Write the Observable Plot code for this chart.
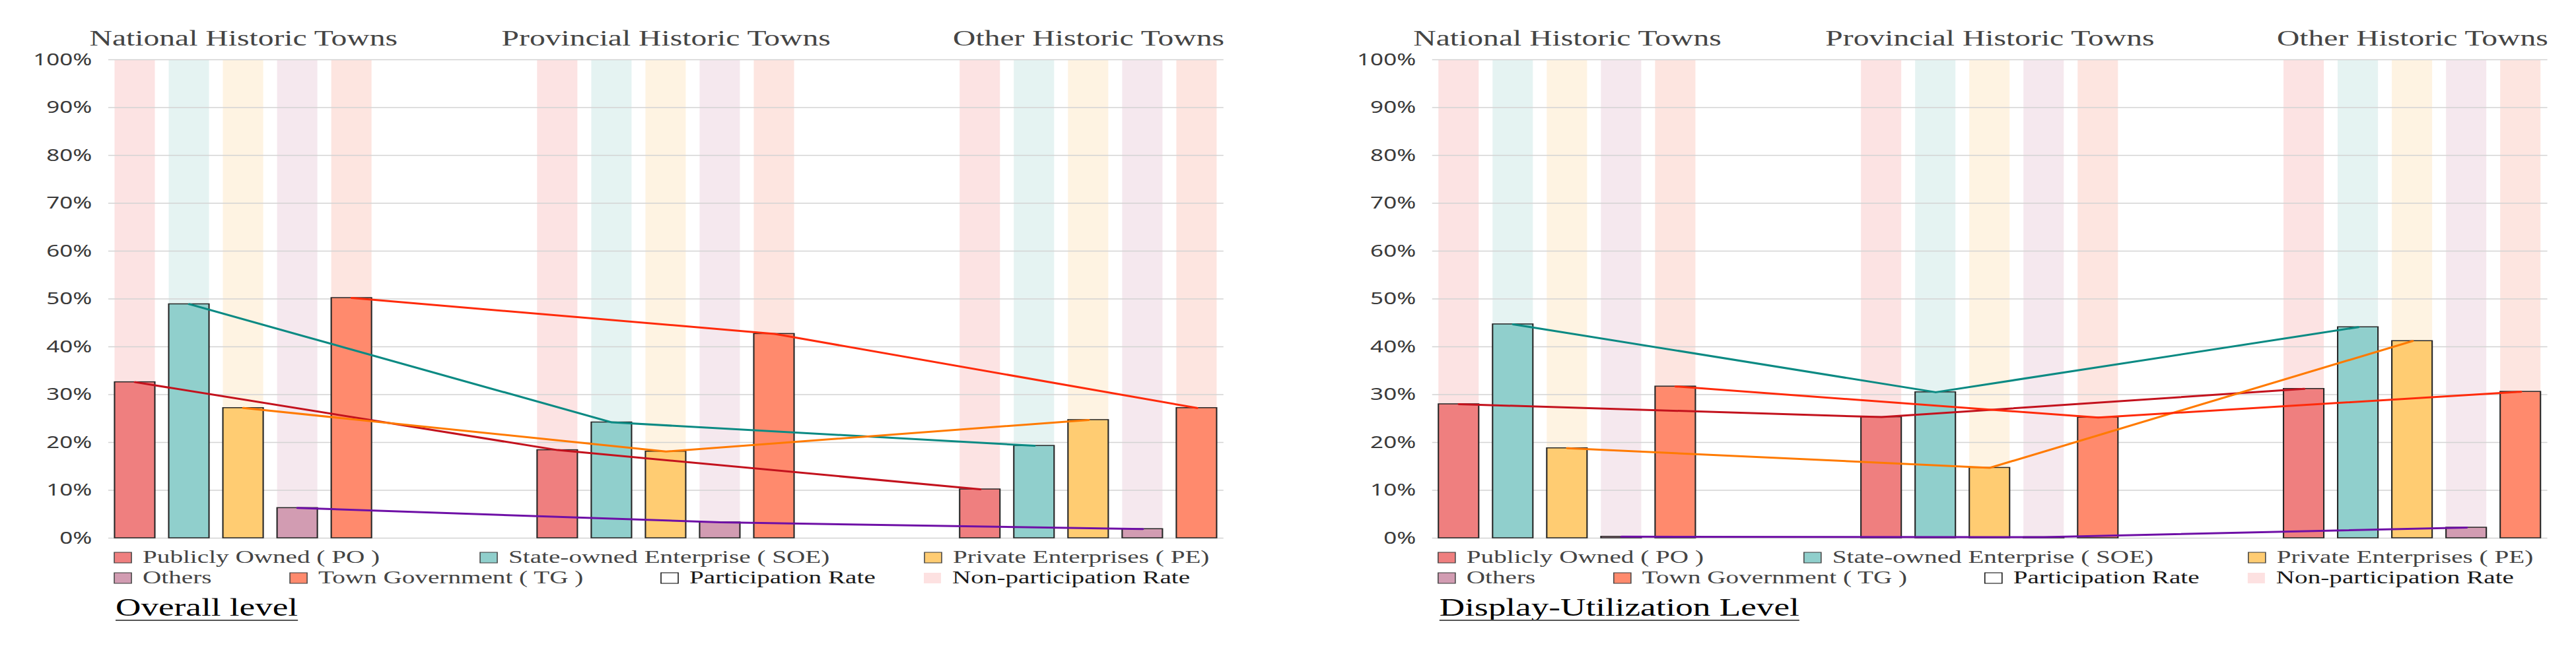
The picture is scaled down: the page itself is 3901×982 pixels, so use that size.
<!DOCTYPE html>
<html>
<head>
<meta charset="utf-8">
<script src="https://cdn.jsdelivr.net/npm/d3@7"></script>
<script src="https://cdn.jsdelivr.net/npm/@observablehq/plot@0.6"></script>
<style>
  html, body { margin: 0; padding: 0; background: #fff; }
  #wrap { position: absolute; left: 0; top: 0; width: 2787px; height: 982px; transform: scaleX(1.4); transform-origin: 0 0; }
  .panel { position: absolute; top: 0; height: 982px; width: 1352px; }
  .panel svg.overlay { position: absolute; left: 0; top: 0; pointer-events: none; }
  .panel > svg:first-child { position: absolute; left: 0; top: 0; }
</style>
</head>
<body>
<div id="wrap"></div>
<script>
// ---------------- data ----------------
const groups = ["National Historic Towns", "Provincial Historic Towns", "Other Historic Towns"];
const types = ["PO", "SOE", "PE", "Others", "TG"];
const typeLabels = ["Publicly Owned ( PO )", "State-owned Enterprise ( SOE)", "Private Enterprises ( PE)", "Others", "Town Government ( TG )"];
const rateLabels = ["Participation Rate", "Non-participation Rate"];
const panelTitles = ["Overall level", "Display-Utilization Level"];
const yTickValues = [0, 0.1, 0.2, 0.3, 0.4, 0.5, 0.6, 0.7, 0.8, 0.9, 1.0];

// Overall level (% participation), per group: National, Provincial, Other
const overallPO     = [32.6, 18.4, 10.2];
const overallSOE    = [48.9, 24.2, 19.3];
const overallPE     = [27.2, 18.1, 24.7];
const overallOthers = [6.3, 3.3, 1.9];
const overallTG     = [50.2, 42.7, 27.2];

// Display-Utilization level
const displayPO     = [28.0, 25.3, 31.2];
const displaySOE    = [44.7, 30.5, 44.1];
const displayPE     = [18.8, 14.7, 41.2];
const displayOthers = [0.3, 0.2, 2.2];
const displayTG     = [31.7, 25.2, 30.6];

// ---------------- styles ----------------
const barColor  = {PO: "#ef7f7f", SOE: "#90cfcc", PE: "#ffcc72", Others: "#d29cb2", TG: "#ff8a6d"};
const bandColor = {PO: "#fce3e3", SOE: "#e5f3f2", PE: "#fef3e2", Others: "#f5e8ee", TG: "#fde5e0"};
const lineColor = {PO: "#c3121d", SOE: "#0b8a83", PE: "#ff7a00", Others: "#6e0fa6", TG: "#ff2a0a"};
const partFill = "#ffffff", nonPartFill = "#fde1e1";

const S = 1.4;               // horizontal stretch of the whole figure
const GROUP_STEP = 7.8;      // distance between groups in bar slots
const HALF = 0.372;          // half bar width in slots
const W = 1352, H = 825;

function buildRows(series) {
  const rows = [];
  groups.forEach((g, gi) => {
    types.forEach((t, ti) => {
      rows.push({group: g, type: t, value: series[ti][gi] / 100, pos: gi * GROUP_STEP + ti});
    });
  });
  return rows;
}

function makePanel(series, title, leftPx) {
  const rows = buildRows(series);
  const panel = document.createElement("div");
  panel.className = "panel";
  panel.style.left = leftPx + "px";
  document.getElementById("wrap").appendChild(panel);

  const chart = Plot.plot({
    width: W, height: H,
    marginTop: 90, marginBottom: 10, marginLeft: 117.1, marginRight: 28.6,
    x: {type: "linear", domain: [-0.488, 20.098], axis: null},
    y: {domain: [0, 1], axis: null},
    color: {type: "identity"},
    style: {fontFamily: "'Noto Sans', sans-serif", background: "transparent", overflow: "visible"},
    marks: [
      Plot.rect(rows, {x1: d => d.pos - HALF, x2: d => d.pos + HALF, y1: 0, y2: 1, fill: d => bandColor[d.type]}),
      Plot.ruleY(yTickValues, {stroke: "#d3d3d3", strokeWidth: 1.6}),
      Plot.rect(rows, {x1: d => d.pos - HALF, x2: d => d.pos + HALF, y1: 0, y2: "value",
                       fill: d => barColor[d.type], stroke: "#262626", strokeWidth: 1.5}),
      Plot.line(rows, {x: "pos", y: "value", z: "type", stroke: d => lineColor[d.type], strokeWidth: 3}),
      Plot.axisY(yTickValues, {tickSize: 0, tickPadding: 18, tickFormat: d3.format(".0%"), fontSize: 25,
                               color: "#3a3a3a", label: null}),
      Plot.text(groups, {x: (d, i) => i * GROUP_STEP + 2, y: 1, text: d => d, dy: -22, lineAnchor: "bottom",
                         fontFamily: "'Liberation Serif', 'Times New Roman', serif", fontSize: 34, fill: "#454545"})
    ]
  });
  panel.appendChild(chart);

  // legend + title overlay
  const svg = d3.select(panel).append("svg")
    .attr("class", "overlay").attr("width", W).attr("height", 982);
  const serif = "'Liberation Serif', 'Times New Roman', serif";
  const legendItems = [
    {label: typeLabels[0], fill: barColor.PO, stroke: "#444", color: "#444"},
    {label: typeLabels[1], fill: barColor.SOE, stroke: "#444", color: "#444"},
    {label: typeLabels[2], fill: barColor.PE, stroke: "#444", color: "#444"},
    {label: typeLabels[3], fill: barColor.Others, stroke: "#444", color: "#444"},
    {label: typeLabels[4], fill: barColor.TG, stroke: "#444", color: "#444"},
    {label: rateLabels[0], fill: partFill, stroke: "#111", color: "#1a1a1a"},
    {label: rateLabels[1], fill: nonPartFill, stroke: "none", color: "#1a1a1a"}
  ];
  const legendLayout = [
    {x: 123.6, row: 0}, {x: 519.3, row: 0}, {x: 1000, row: 0},
    {x: 123.6, row: 1}, {x: 313.6, row: 1}, {x: 715, row: 1}, {x: 999.3, row: 1}
  ];
  const rowBase = [853, 884];
  legendItems.forEach((it, i) => {
    const L = legendLayout[i];
    const b = rowBase[L.row];
    svg.append("rect").attr("x", L.x).attr("y", b - 16).attr("width", 18.6).attr("height", 16)
      .attr("fill", it.fill).attr("stroke", it.stroke).attr("stroke-width", 1.1);
    svg.append("text").attr("x", L.x + 30.7).attr("y", b)
      .attr("font-family", serif).attr("font-size", 28).attr("fill", it.color).text(it.label);
  });
  const t = svg.append("text").attr("x", 125).attr("y", 933)
    .attr("font-family", serif).attr("font-size", 38).attr("fill", "#000").text(title);
  const tw = t.node().getComputedTextLength();
  svg.append("line").attr("x1", 125).attr("x2", 125 + tw).attr("y1", 940).attr("y2", 940)
    .attr("stroke", "#555").attr("stroke-width", 2);
}

makePanel([overallPO, overallSOE, overallPE, overallOthers, overallTG], panelTitles[0], 0);
makePanel([displayPO, displaySOE, displayPE, displayOthers, displayTG], panelTitles[1], 2005 / S);
</script>
</body>
</html>
